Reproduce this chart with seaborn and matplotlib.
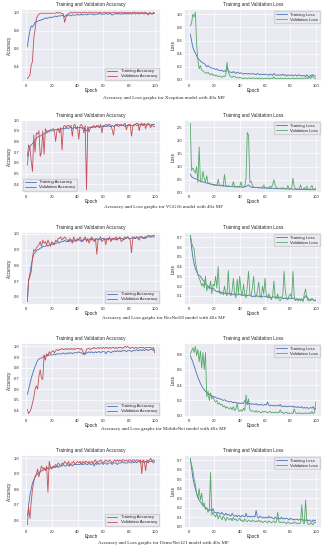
import numpy as np
import pandas as pd
import seaborn as sns
import matplotlib.pyplot as plt

# ---- values (epochs 1..100) ----
EPOCHS = list(range(1, 101))
MODEL_NAMES = ["Xception", "VGG16", "ResNet50", "MobileNet", "DenseNet121"]

xception_train_acc = [
    0.62, 0.72, 0.80, 0.85, 0.84, 0.86, 0.89, 0.90, 0.90, 0.91, 0.91, 0.92, 0.92, 0.93, 0.94, 0.93, 0.94, 0.94, 0.95, 0.94,
    0.95, 0.95, 0.96, 0.95, 0.96, 0.96, 0.96, 0.97, 0.96, 0.95, 0.97, 0.96, 0.97, 0.97, 0.96, 0.97, 0.97, 0.97, 0.97, 0.98,
    0.97, 0.97, 0.98, 0.97, 0.98, 0.98, 0.97, 0.98, 0.98, 0.98, 0.98, 0.98, 0.97, 0.98, 0.98, 0.98, 0.99, 0.98, 0.98, 0.98,
    0.98, 0.99, 0.98, 0.98, 0.99, 0.98, 0.97, 0.98, 0.98, 0.99, 0.98, 0.99, 0.98, 0.98, 0.99, 0.98, 0.99, 0.98, 0.99, 0.98,
    0.99, 0.98, 0.99, 0.99, 0.98, 0.99, 0.99, 0.98, 0.99, 0.99, 0.99, 0.98, 0.99, 0.99, 0.98, 0.99, 0.99, 0.98, 0.99, 0.99]
xception_val_acc = [
    0.27, 0.29, 0.31, 0.42, 0.46, 0.72, 0.81, 0.93, 0.96, 0.98, 0.99, 0.99, 0.99, 0.99, 0.99, 0.99, 0.99, 0.99, 0.99, 0.99,
    0.99, 0.99, 0.99, 1.00, 0.99, 1.00, 0.99, 0.99, 0.98, 0.89, 0.95, 0.97, 0.99, 0.99, 1.00, 0.99, 1.00, 1.00, 1.00, 0.99,
    1.00, 1.00, 0.99, 1.00, 1.00, 1.00, 1.00, 0.99, 1.00, 1.00, 1.00, 0.99, 1.00, 1.00, 1.00, 0.99, 1.00, 1.00, 0.99, 1.00,
    1.00, 1.00, 0.99, 1.00, 1.00, 0.99, 1.00, 1.00, 1.00, 1.00, 0.99, 1.00, 1.00, 1.00, 0.99, 1.00, 1.00, 0.99, 1.00, 1.00,
    1.00, 0.99, 1.00, 1.00, 1.00, 0.99, 1.00, 0.99, 1.00, 1.00, 0.99, 1.00, 1.00, 0.99, 0.97, 1.00, 0.99, 0.98, 1.00, 0.99]
xception_train_loss = [
    0.70, 0.60, 0.50, 0.45, 0.41, 0.37, 0.33, 0.31, 0.29, 0.27, 0.26, 0.25, 0.23, 0.20, 0.22, 0.20, 0.19, 0.18, 0.18, 0.17,
    0.16, 0.17, 0.15, 0.15, 0.14, 0.15, 0.13, 0.14, 0.13, 0.20, 0.14, 0.12, 0.12, 0.11, 0.13, 0.11, 0.10, 0.12, 0.11, 0.10,
    0.11, 0.10, 0.09, 0.10, 0.10, 0.09, 0.10, 0.09, 0.09, 0.10, 0.09, 0.09, 0.08, 0.10, 0.09, 0.08, 0.09, 0.08, 0.09, 0.08,
    0.09, 0.08, 0.07, 0.09, 0.08, 0.07, 0.10, 0.08, 0.07, 0.08, 0.07, 0.08, 0.07, 0.09, 0.07, 0.08, 0.06, 0.08, 0.07, 0.07,
    0.08, 0.06, 0.07, 0.08, 0.06, 0.07, 0.08, 0.06, 0.07, 0.06, 0.07, 0.05, 0.08, 0.06, 0.05, 0.07, 0.06, 0.08, 0.06, 0.06]
xception_val_loss = [
    0.82, 0.86, 1.00, 0.96, 1.03, 0.55, 0.30, 0.17, 0.22, 0.15, 0.14, 0.12, 0.11, 0.10, 0.12, 0.09, 0.08, 0.10, 0.07, 0.08,
    0.06, 0.07, 0.05, 0.06, 0.05, 0.04, 0.06, 0.05, 0.08, 0.27, 0.12, 0.07, 0.05, 0.04, 0.06, 0.05, 0.04, 0.04, 0.03, 0.04,
    0.03, 0.03, 0.02, 0.03, 0.03, 0.02, 0.03, 0.03, 0.02, 0.03, 0.03, 0.02, 0.03, 0.02, 0.03, 0.02, 0.03, 0.02, 0.02, 0.03,
    0.02, 0.03, 0.02, 0.02, 0.03, 0.02, 0.05, 0.02, 0.02, 0.03, 0.02, 0.02, 0.03, 0.02, 0.02, 0.03, 0.02, 0.02, 0.03, 0.02,
    0.02, 0.03, 0.02, 0.02, 0.03, 0.02, 0.02, 0.03, 0.02, 0.02, 0.03, 0.02, 0.04, 0.02, 0.06, 0.02, 0.08, 0.04, 0.03, 0.02]

vgg16_train_acc = [
    0.58, 0.70, 0.75, 0.77, 0.78, 0.80, 0.81, 0.83, 0.84, 0.85, 0.85, 0.86, 0.87, 0.87, 0.88, 0.88, 0.89, 0.89, 0.90, 0.90,
    0.90, 0.91, 0.91, 0.91, 0.92, 0.91, 0.92, 0.92, 0.92, 0.92, 0.92, 0.93, 0.92, 0.93, 0.93, 0.92, 0.93, 0.93, 0.92, 0.93,
    0.93, 0.93, 0.93, 0.92, 0.93, 0.91, 0.90, 0.92, 0.93, 0.93, 0.93, 0.93, 0.94, 0.93, 0.94, 0.94, 0.93, 0.94, 0.94, 0.94,
    0.94, 0.94, 0.94, 0.95, 0.94, 0.94, 0.95, 0.94, 0.95, 0.95, 0.95, 0.94, 0.95, 0.95, 0.95, 0.95, 0.94, 0.95, 0.95, 0.95,
    0.95, 0.95, 0.95, 0.95, 0.96, 0.95, 0.95, 0.96, 0.95, 0.96, 0.95, 0.96, 0.96, 0.95, 0.96, 0.96, 0.95, 0.96, 0.96, 0.96]
vgg16_val_acc = [
    0.66, 0.77, 0.74, 0.62, 0.52, 0.86, 0.70, 0.88, 0.87, 0.90, 0.66, 0.70, 0.90, 0.68, 0.92, 0.89, 0.90, 0.90, 0.91, 0.91,
    0.92, 0.91, 0.80, 0.90, 0.92, 0.88, 0.93, 0.72, 0.94, 0.95, 0.93, 0.95, 0.95, 0.94, 0.95, 0.85, 0.95, 0.96, 0.92, 0.94,
    0.82, 0.95, 0.96, 0.94, 0.88, 0.95, 0.35, 0.94, 0.89, 0.93, 0.94, 0.94, 0.95, 0.93, 0.95, 0.95, 0.93, 0.96, 0.88, 0.95,
    0.95, 0.96, 0.95, 0.96, 0.96, 0.95, 0.91, 0.86, 0.95, 0.96, 0.96, 0.96, 0.95, 0.96, 0.95, 0.96, 0.97, 0.91, 0.95, 0.96,
    0.96, 0.85, 0.94, 0.96, 0.96, 0.97, 0.97, 0.90, 0.96, 0.97, 0.95, 0.97, 0.92, 0.96, 0.97, 0.95, 0.93, 0.96, 0.94, 0.94]
vgg16_train_loss = [
    0.72, 0.62, 0.58, 0.56, 0.54, 0.52, 0.50, 0.47, 0.45, 0.43, 0.42, 0.40, 0.39, 0.37, 0.36, 0.35, 0.34, 0.33, 0.32, 0.31,
    0.30, 0.29, 0.29, 0.28, 0.27, 0.27, 0.26, 0.26, 0.25, 0.25, 0.25, 0.24, 0.24, 0.24, 0.23, 0.24, 0.23, 0.23, 0.22, 0.23,
    0.22, 0.22, 0.22, 0.23, 0.24, 0.28, 0.30, 0.25, 0.22, 0.21, 0.21, 0.20, 0.20, 0.20, 0.19, 0.19, 0.19, 0.18, 0.19, 0.18,
    0.18, 0.18, 0.17, 0.17, 0.17, 0.18, 0.17, 0.16, 0.16, 0.16, 0.16, 0.16, 0.15, 0.16, 0.15, 0.15, 0.15, 0.15, 0.14, 0.15,
    0.14, 0.14, 0.14, 0.14, 0.13, 0.14, 0.13, 0.13, 0.13, 0.13, 0.13, 0.13, 0.12, 0.13, 0.12, 0.12, 0.12, 0.12, 0.12, 0.12]
vgg16_val_loss = [
    2.65, 0.85, 0.95, 0.85, 0.75, 1.00, 0.40, 1.75, 0.45, 0.40, 0.82, 0.55, 0.40, 0.65, 0.35, 0.38, 0.33, 0.32, 0.30, 0.29,
    0.28, 0.30, 0.52, 0.30, 0.27, 0.30, 0.27, 0.70, 0.26, 0.25, 0.27, 0.25, 0.24, 0.26, 0.43, 0.22, 0.25, 0.22, 0.24, 0.23,
    0.42, 0.22, 0.20, 0.25, 0.55, 2.30, 2.20, 0.40, 0.45, 0.28, 0.22, 0.21, 0.20, 0.22, 0.19, 0.20, 0.22, 0.18, 0.30, 0.19,
    0.18, 0.20, 0.19, 0.25, 0.20, 0.32, 0.50, 0.28, 0.20, 0.17, 0.16, 0.18, 0.17, 0.20, 0.16, 0.17, 0.15, 0.28, 0.17, 0.16,
    0.17, 0.55, 0.25, 0.16, 0.15, 0.14, 0.15, 0.30, 0.14, 0.13, 0.20, 0.12, 0.25, 0.14, 0.12, 0.20, 0.28, 0.13, 0.15, 0.18]

resnet50_train_acc = [
    0.57, 0.70, 0.75, 0.80, 0.84, 0.87, 0.88, 0.89, 0.90, 0.90, 0.91, 0.91, 0.92, 0.92, 0.92, 0.93, 0.92, 0.93, 0.93, 0.94,
    0.93, 0.94, 0.94, 0.94, 0.95, 0.94, 0.95, 0.95, 0.95, 0.96, 0.95, 0.95, 0.96, 0.95, 0.96, 0.96, 0.95, 0.96, 0.96, 0.96,
    0.96, 0.96, 0.95, 0.96, 0.96, 0.97, 0.96, 0.96, 0.96, 0.97, 0.96, 0.97, 0.96, 0.96, 0.97, 0.96, 0.97, 0.96, 0.97, 0.97,
    0.97, 0.96, 0.97, 0.97, 0.97, 0.96, 0.97, 0.97, 0.97, 0.96, 0.97, 0.97, 0.97, 0.97, 0.97, 0.96, 0.97, 0.97, 0.98, 0.97,
    0.97, 0.97, 0.98, 0.97, 0.97, 0.98, 0.97, 0.98, 0.98, 0.98, 0.97, 0.97, 0.98, 0.98, 0.98, 0.98, 0.98, 0.98, 0.98, 0.98]
resnet50_val_acc = [
    0.60, 0.71, 0.73, 0.76, 0.85, 0.90, 0.89, 0.91, 0.92, 0.93, 0.95, 0.92, 0.96, 0.94, 0.95, 0.93, 0.96, 0.94, 0.92, 0.95,
    0.94, 0.93, 0.96, 0.95, 0.97, 0.97, 0.98, 0.96, 0.97, 0.98, 0.97, 0.96, 0.95, 0.97, 0.96, 0.94, 0.98, 0.96, 0.95, 0.97,
    0.96, 0.98, 0.96, 0.95, 0.97, 0.98, 0.95, 0.97, 0.94, 0.96, 0.98, 0.96, 0.95, 0.97, 0.87, 0.96, 0.97, 0.98, 0.95, 0.96,
    0.97, 0.93, 0.97, 0.96, 0.98, 0.95, 0.97, 0.96, 0.97, 0.98, 0.96, 0.97, 0.98, 0.95, 0.96, 0.97, 0.98, 0.97, 0.98, 0.97,
    0.96, 0.88, 0.97, 0.98, 0.97, 0.98, 0.97, 0.96, 0.98, 0.98, 0.97, 0.98, 0.97, 0.98, 0.99, 0.99, 0.98, 0.99, 0.99, 0.99]
resnet50_train_loss = [
    0.72, 0.60, 0.50, 0.43, 0.38, 0.35, 0.32, 0.31, 0.30, 0.28, 0.26, 0.25, 0.22, 0.21, 0.20, 0.19, 0.18, 0.17, 0.18, 0.16,
    0.15, 0.14, 0.15, 0.13, 0.14, 0.13, 0.12, 0.13, 0.12, 0.13, 0.12, 0.13, 0.12, 0.11, 0.12, 0.11, 0.12, 0.11, 0.11, 0.12,
    0.11, 0.10, 0.11, 0.10, 0.11, 0.10, 0.11, 0.10, 0.10, 0.09, 0.10, 0.09, 0.10, 0.10, 0.09, 0.10, 0.09, 0.09, 0.10, 0.09,
    0.09, 0.10, 0.08, 0.09, 0.08, 0.09, 0.09, 0.08, 0.09, 0.08, 0.08, 0.09, 0.08, 0.07, 0.08, 0.07, 0.08, 0.07, 0.08, 0.07,
    0.07, 0.08, 0.07, 0.06, 0.07, 0.06, 0.07, 0.06, 0.06, 0.06, 0.08, 0.10, 0.09, 0.07, 0.06, 0.06, 0.07, 0.06, 0.05, 0.05]
resnet50_val_loss = [
    0.72, 0.65, 0.60, 0.58, 0.45, 0.38, 0.32, 0.28, 0.25, 0.20, 0.23, 0.18, 0.30, 0.15, 0.20, 0.17, 0.25, 0.12, 0.22, 0.20,
    0.30, 0.18, 0.40, 0.15, 0.12, 0.14, 0.11, 0.20, 0.13, 0.10, 0.36, 0.12, 0.10, 0.15, 0.28, 0.12, 0.08, 0.27, 0.12, 0.30,
    0.15, 0.10, 0.22, 0.11, 0.08, 0.20, 0.35, 0.12, 0.10, 0.18, 0.30, 0.12, 0.09, 0.15, 0.24, 0.10, 0.08, 0.20, 0.12, 0.28,
    0.10, 0.08, 0.12, 0.09, 0.06, 0.10, 0.25, 0.08, 0.07, 0.12, 0.06, 0.05, 0.08, 0.10, 0.35, 0.15, 0.07, 0.06, 0.10, 0.12,
    0.08, 0.35, 0.10, 0.05, 0.07, 0.05, 0.06, 0.05, 0.07, 0.04, 0.12, 0.17, 0.08, 0.05, 0.06, 0.05, 0.07, 0.06, 0.05, 0.06]

mobilenet_train_acc = [
    0.55, 0.60, 0.65, 0.70, 0.74, 0.78, 0.81, 0.84, 0.87, 0.88, 0.89, 0.89, 0.90, 0.91, 0.91, 0.91, 0.92, 0.92, 0.92, 0.92,
    0.92, 0.93, 0.92, 0.93, 0.93, 0.93, 0.93, 0.93, 0.94, 0.93, 0.93, 0.94, 0.93, 0.94, 0.94, 0.93, 0.94, 0.94, 0.94, 0.94,
    0.95, 0.94, 0.94, 0.93, 0.94, 0.93, 0.94, 0.94, 0.95, 0.94, 0.95, 0.94, 0.94, 0.95, 0.94, 0.95, 0.95, 0.94, 0.95, 0.95,
    0.95, 0.93, 0.95, 0.95, 0.95, 0.94, 0.95, 0.95, 0.96, 0.95, 0.96, 0.95, 0.96, 0.95, 0.96, 0.96, 0.96, 0.95, 0.96, 0.96,
    0.96, 0.95, 0.96, 0.96, 0.96, 0.97, 0.96, 0.96, 0.97, 0.96, 0.97, 0.96, 0.97, 0.97, 0.96, 0.97, 0.97, 0.97, 0.96, 0.97]
mobilenet_val_acc = [
    0.41, 0.37, 0.39, 0.42, 0.47, 0.52, 0.60, 0.63, 0.60, 0.72, 0.78, 0.70, 0.69, 0.92, 0.87, 0.93, 0.91, 0.95, 0.93, 0.95,
    0.96, 0.94, 0.96, 0.97, 0.96, 0.97, 0.97, 0.98, 0.97, 0.97, 0.98, 0.97, 0.98, 0.97, 0.98, 0.97, 0.98, 0.97, 0.98, 0.98,
    0.98, 0.97, 0.98, 0.96, 0.92, 0.93, 0.97, 0.98, 0.98, 0.97, 0.98, 0.98, 0.99, 0.98, 0.98, 0.99, 0.98, 0.99, 0.98, 0.99,
    0.98, 0.99, 0.99, 0.98, 0.99, 0.98, 0.99, 0.99, 0.98, 0.99, 0.98, 0.99, 0.99, 0.99, 0.98, 0.99, 1.00, 0.99, 1.00, 0.99,
    0.98, 0.99, 0.99, 0.98, 0.99, 0.99, 0.98, 0.99, 0.99, 0.99, 0.99, 0.98, 0.99, 0.99, 0.99, 0.99, 0.99, 0.98, 0.99, 0.94]
mobilenet_train_loss = [
    0.78, 0.74, 0.70, 0.65, 0.60, 0.55, 0.50, 0.46, 0.42, 0.39, 0.36, 0.34, 0.32, 0.30, 0.29, 0.28, 0.27, 0.26, 0.25, 0.25,
    0.24, 0.23, 0.23, 0.22, 0.22, 0.21, 0.20, 0.21, 0.20, 0.19, 0.19, 0.18, 0.19, 0.18, 0.17, 0.18, 0.17, 0.17, 0.16, 0.17,
    0.16, 0.17, 0.16, 0.20, 0.18, 0.15, 0.16, 0.16, 0.15, 0.16, 0.15, 0.15, 0.16, 0.14, 0.15, 0.14, 0.15, 0.14, 0.14, 0.15,
    0.14, 0.18, 0.14, 0.13, 0.14, 0.13, 0.14, 0.13, 0.13, 0.14, 0.13, 0.15, 0.12, 0.13, 0.12, 0.13, 0.12, 0.12, 0.13, 0.12,
    0.12, 0.13, 0.11, 0.12, 0.11, 0.12, 0.11, 0.11, 0.12, 0.10, 0.11, 0.10, 0.11, 0.10, 0.10, 0.11, 0.10, 0.12, 0.08, 0.10]
mobilenet_val_loss = [
    0.80, 0.84, 0.88, 0.82, 0.90, 0.78, 0.86, 0.70, 0.84, 0.62, 0.82, 0.60, 0.82, 0.25, 0.32, 0.20, 0.30, 0.22, 0.25, 0.20,
    0.18, 0.20, 0.15, 0.17, 0.14, 0.15, 0.12, 0.13, 0.10, 0.12, 0.10, 0.09, 0.11, 0.08, 0.12, 0.07, 0.09, 0.16, 0.07, 0.06,
    0.08, 0.06, 0.10, 0.07, 0.27, 0.15, 0.22, 0.08, 0.06, 0.07, 0.06, 0.05, 0.07, 0.05, 0.06, 0.05, 0.04, 0.06, 0.05, 0.06,
    0.05, 0.04, 0.05, 0.06, 0.04, 0.05, 0.04, 0.05, 0.04, 0.05, 0.04, 0.08, 0.04, 0.05, 0.03, 0.04, 0.05, 0.03, 0.04, 0.03,
    0.04, 0.03, 0.09, 0.04, 0.03, 0.04, 0.03, 0.04, 0.03, 0.03, 0.04, 0.03, 0.04, 0.03, 0.04, 0.03, 0.06, 0.03, 0.04, 0.18]

densenet121_train_acc = [
    0.57, 0.70, 0.76, 0.80, 0.84, 0.86, 0.88, 0.89, 0.90, 0.91, 0.91, 0.92, 0.92, 0.93, 0.93, 0.93, 0.94, 0.93, 0.94, 0.94,
    0.94, 0.95, 0.94, 0.95, 0.94, 0.95, 0.95, 0.95, 0.96, 0.95, 0.95, 0.96, 0.95, 0.96, 0.96, 0.95, 0.96, 0.96, 0.96, 0.96,
    0.96, 0.96, 0.97, 0.96, 0.96, 0.97, 0.96, 0.96, 0.97, 0.96, 0.96, 0.97, 0.95, 0.97, 0.96, 0.97, 0.96, 0.97, 0.97, 0.96,
    0.97, 0.97, 0.96, 0.97, 0.97, 0.97, 0.96, 0.97, 0.97, 0.97, 0.96, 0.97, 0.97, 0.97, 0.98, 0.97, 0.97, 0.97, 0.97, 0.98,
    0.97, 0.97, 0.98, 0.97, 0.98, 0.97, 0.98, 0.98, 0.97, 0.98, 0.98, 0.97, 0.98, 0.98, 0.97, 0.98, 0.98, 0.98, 0.97, 0.98]
densenet121_val_acc = [
    0.63, 0.68, 0.61, 0.72, 0.80, 0.85, 0.88, 0.90, 0.93, 0.88, 0.92, 0.95, 0.93, 0.94, 0.92, 0.95, 0.78, 0.98, 0.94, 0.93,
    0.95, 0.94, 0.96, 0.95, 0.97, 0.96, 0.95, 0.97, 0.96, 0.98, 0.97, 0.96, 0.98, 0.95, 0.97, 0.97, 0.98, 0.96, 0.97, 0.98,
    0.97, 0.98, 0.96, 0.98, 0.97, 0.98, 0.98, 0.97, 0.98, 0.97, 0.98, 0.97, 0.98, 0.99, 0.97, 0.98, 0.98, 0.99, 0.98, 0.97,
    0.98, 0.99, 0.98, 0.98, 0.99, 0.98, 0.97, 0.98, 0.99, 0.98, 0.99, 0.98, 0.99, 0.98, 0.99, 0.99, 0.98, 0.99, 0.98, 0.99,
    0.99, 0.98, 0.99, 0.99, 0.98, 0.99, 0.99, 0.98, 0.99, 0.90, 0.99, 0.98, 0.92, 0.99, 0.98, 0.99, 1.00, 0.98, 0.99, 0.98]
densenet121_train_loss = [
    0.72, 0.62, 0.52, 0.45, 0.40, 0.35, 0.31, 0.28, 0.26, 0.24, 0.22, 0.21, 0.20, 0.19, 0.18, 0.17, 0.18, 0.16, 0.19, 0.15,
    0.15, 0.14, 0.15, 0.14, 0.13, 0.15, 0.13, 0.12, 0.14, 0.12, 0.13, 0.12, 0.11, 0.14, 0.12, 0.11, 0.12, 0.10, 0.12, 0.11,
    0.10, 0.12, 0.11, 0.10, 0.14, 0.10, 0.11, 0.10, 0.11, 0.10, 0.11, 0.10, 0.17, 0.10, 0.09, 0.11, 0.10, 0.09, 0.10, 0.09,
    0.10, 0.09, 0.11, 0.09, 0.10, 0.09, 0.08, 0.10, 0.09, 0.08, 0.09, 0.08, 0.10, 0.08, 0.09, 0.08, 0.09, 0.08, 0.07, 0.09,
    0.08, 0.07, 0.08, 0.07, 0.08, 0.07, 0.07, 0.08, 0.07, 0.07, 0.06, 0.07, 0.07, 0.06, 0.07, 0.06, 0.05, 0.07, 0.06, 0.07]
densenet121_val_loss = [
    0.70, 0.65, 0.60, 0.50, 0.45, 0.35, 0.30, 0.40, 0.28, 0.35, 0.22, 0.25, 0.18, 0.20, 0.15, 0.18, 0.57, 0.12, 0.15, 0.12,
    0.10, 0.14, 0.08, 0.12, 0.10, 0.07, 0.11, 0.09, 0.06, 0.10, 0.08, 0.07, 0.09, 0.06, 0.10, 0.07, 0.08, 0.06, 0.07, 0.09,
    0.06, 0.07, 0.05, 0.08, 0.06, 0.05, 0.07, 0.06, 0.05, 0.07, 0.06, 0.05, 0.06, 0.05, 0.07, 0.05, 0.06, 0.04, 0.05, 0.06,
    0.05, 0.04, 0.06, 0.05, 0.04, 0.05, 0.06, 0.04, 0.05, 0.15, 0.05, 0.04, 0.05, 0.04, 0.05, 0.04, 0.03, 0.05, 0.04, 0.03,
    0.04, 0.03, 0.05, 0.04, 0.03, 0.04, 0.03, 0.04, 0.23, 0.04, 0.03, 0.28, 0.05, 0.03, 0.02, 0.04, 0.03, 0.02, 0.05, 0.04]

HISTORIES = [
    (xception_train_acc, xception_val_acc, xception_train_loss, xception_val_loss),
    (vgg16_train_acc, vgg16_val_acc, vgg16_train_loss, vgg16_val_loss),
    (resnet50_train_acc, resnet50_val_acc, resnet50_train_loss, resnet50_val_loss),
    (mobilenet_train_acc, mobilenet_val_acc, mobilenet_train_loss, mobilenet_val_loss),
    (densenet121_train_acc, densenet121_val_acc, densenet121_train_loss, densenet121_val_loss),
]
ACC_LEGEND_LOC = ["lower right", "lower left", "lower right", "lower right", "lower right"]

BLUE, RED, GREEN = "#4C72B0", "#C44E52", "#55A868"

sns.set_theme(style="darkgrid")
plt.rcParams["font.family"] = ["Liberation Sans", "DejaVu Sans"]

W, H = 327, 550
fig = plt.figure(figsize=(W / 100, H / 100), dpi=100)

# (top px, bottom px) of each row of axes, caption y px
ROW_BOX = [(9, 82), (120, 193), (232, 305), (343, 417), (455, 528)]
CAPTION_Y = [98, 207, 318, 429, 543]
COLS = [(21, 161), (184, 322)]

FS = 3.0


def style_axes(ax, title, ylabel):
    ax.set_title(title, fontsize=FS + 0.4, pad=2)
    ax.set_xlabel("Epoch", fontsize=FS + 0.3, labelpad=0.5)
    ax.set_ylabel(ylabel, fontsize=FS + 0.3, labelpad=1)
    ax.tick_params(labelsize=FS, pad=1.2, length=0)
    ax.set_xticks([0, 20, 40, 60, 80, 100])
    for line in ax.get_xgridlines() + ax.get_ygridlines():
        line.set_linewidth(0.5)


for i, name in enumerate(MODEL_NAMES):
    tr_acc, va_acc, tr_loss, va_loss = HISTORIES[i]
    top, bottom = ROW_BOX[i]
    rects = [[l / W, 1 - bottom / H, (r - l) / W, (bottom - top) / H] for l, r in COLS]
    ax_acc = fig.add_axes(rects[0])
    ax_loss = fig.add_axes(rects[1])

    df = pd.DataFrame({"Epoch": EPOCHS, "train_acc": tr_acc, "val_acc": va_acc,
                       "train_loss": tr_loss, "val_loss": va_loss})

    sns.lineplot(data=df, x="Epoch", y="train_acc", ax=ax_acc, color=BLUE, lw=0.6, label="Training Accuracy")
    sns.lineplot(data=df, x="Epoch", y="val_acc", ax=ax_acc, color=RED, lw=0.6, label="Validation Accuracy")
    sns.lineplot(data=df, x="Epoch", y="train_loss", ax=ax_loss, color=BLUE, lw=0.6, label="Training Loss")
    sns.lineplot(data=df, x="Epoch", y="val_loss", ax=ax_loss, color=GREEN, lw=0.6, label="Validation Loss")

    style_axes(ax_acc, "Training and Validation Accuracy", "Accuracy")
    style_axes(ax_loss, "Training and Validation Loss", "Loss")

    for ax, loc in [(ax_acc, ACC_LEGEND_LOC[i]), (ax_loss, "upper right")]:
        ax.legend(loc=loc, fontsize=FS + 0.1, handlelength=2.5, borderpad=0.4,
                  labelspacing=0.2, handletextpad=0.8, frameon=True)

    fig.text(0.5, 1 - CAPTION_Y[i] / H,
             f"Accuracy and Loss graphs for {name} model with 40x MF",
             ha="center", va="center", fontsize=3.6, family="Liberation Serif")

fig.savefig("out.png", dpi=100, facecolor="white")
